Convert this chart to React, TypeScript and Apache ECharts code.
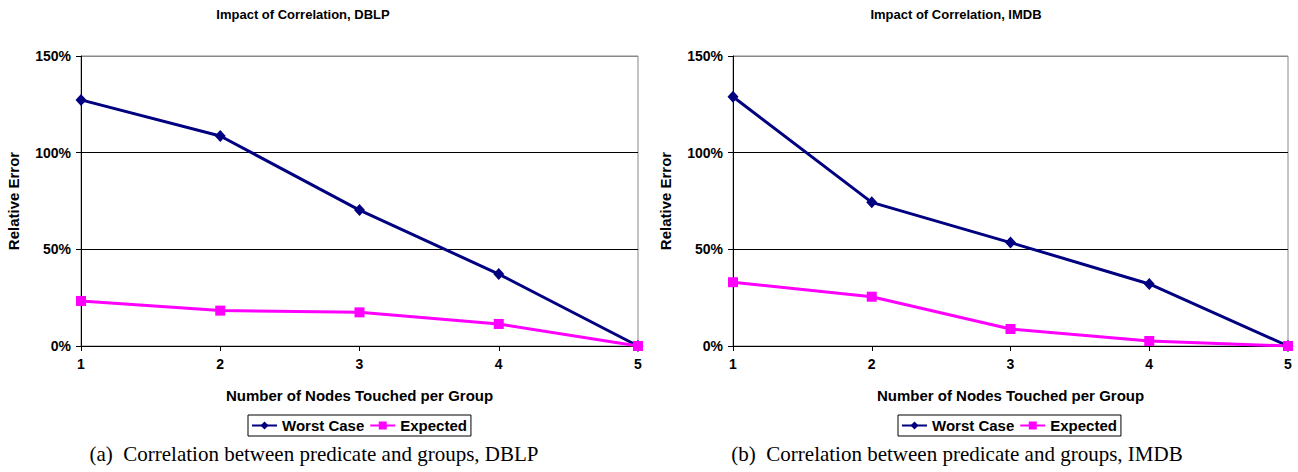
import React, { useEffect, useRef } from "react";
import * as echarts from "echarts";

const categories = ["1", "2", "3", "4", "5"];
const dblpWorst = [1.273, 1.086, 0.703, 0.372, 0.0];
const dblpExpected = [0.233, 0.183, 0.174, 0.114, 0.0];
const imdbWorst = [1.289, 0.743, 0.535, 0.321, 0.0];
const imdbExpected = [0.33, 0.255, 0.088, 0.026, 0.0];
const titles = ["Impact of Correlation, DBLP", "Impact of Correlation, IMDB"];
const captions = [
  "(a)  Correlation between predicate and groups, DBLP",
  "(b)  Correlation between predicate and groups, IMDB",
];
const seriesNames = ["Worst Case", "Expected"];

const SANS = "'Liberation Sans', Arial, sans-serif";
const SERIF = "'Liberation Serif', 'Times New Roman', serif";

export default function App() {
  const ref = useRef<HTMLDivElement>(null);
  useEffect(() => {
    if (!ref.current) return;
    const chart = echarts.init(ref.current, undefined, { renderer: "svg" });
    const grids = [
      { left: 81, right: 660, top: 56, bottom: 126 },
      { left: 733, right: 10, top: 56, bottom: 126 },
    ];
    const xAxes = grids.map((_, i) => ({
      type: "category" as const,
      gridIndex: i,
      data: categories,
      boundaryGap: false,
      axisLine: { lineStyle: { color: "#000", width: 1 } },
      axisTick: { show: true, length: 5, lineStyle: { color: "#000" } },
      axisLabel: { color: "#000", fontFamily: SANS, fontWeight: "bold", fontSize: 14, margin: 11 },
      splitLine: { show: false },
      name: "Number of Nodes Touched per Group",
      nameLocation: "middle" as const,
      nameGap: 42,
      nameTextStyle: { color: "#000", fontFamily: SANS, fontWeight: "bold", fontSize: 15 },
    }));
    const yAxes = grids.map((_, i) => ({
      type: "value" as const,
      gridIndex: i,
      min: 0,
      max: 1.5,
      interval: 0.5,
      axisLine: { show: true, lineStyle: { color: "#000", width: 1 } },
      axisTick: { show: true, length: 5, lineStyle: { color: "#000" } },
      axisLabel: {
        color: "#000",
        fontFamily: SANS,
        fontWeight: "bold",
        fontSize: 14,
        margin: 10,
        formatter: (v: number) => `${Math.round(v * 100)}%`,
      },
      splitLine: { show: true, lineStyle: { color: ["#000", "#000", "#000", "#888"], width: 1 } },
      name: "Relative Error",
      nameLocation: "middle" as const,
      nameGap: 60,
      nameTextStyle: { color: "#000", fontFamily: SANS, fontWeight: "bold", fontSize: 15 },
    }));
    const worst = [dblpWorst, imdbWorst];
    const expected = [dblpExpected, imdbExpected];
    const series: any[] = [];
    [0, 1].forEach((i) => {
      series.push({
        type: "line",
        name: seriesNames[0],
        xAxisIndex: i,
        yAxisIndex: i,
        data: worst[i],
        symbol: "diamond",
        symbolSize: [11, 12],
        color: "#000080",
        lineStyle: { color: "#000080", width: 3 },
        itemStyle: { color: "#000080" },
      });
      series.push({
        type: "line",
        name: seriesNames[1],
        xAxisIndex: i,
        yAxisIndex: i,
        data: expected[i],
        symbol: "rect",
        symbolSize: 10,
        color: "#FF00FF",
        lineStyle: { color: "#FF00FF", width: 3 },
        itemStyle: { color: "#FF00FF" },
      });
    });
    const legendLefts = [248, 898];
    const legends = legendLefts.map((l) => ({
      data: seriesNames,
      left: l,
      top: 415,
      orient: "horizontal" as const,
      itemWidth: 25,
      itemHeight: 10,
      itemGap: 5,
      padding: [3, 4, 3, 3],
      borderColor: "#000",
      borderWidth: 1,
      textStyle: { color: "#000", fontFamily: SANS, fontWeight: "bold", fontSize: 15 },
      selectedMode: false,
    }));
    const titleX = [303, 956];
    const captionX = [314, 957];
    const graphics: any[] = [];
    [0, 1].forEach((i) => {
      graphics.push({
        type: "text",
        x: titleX[i],
        y: 14,
        style: {
          text: titles[i],
          align: "center",
          verticalAlign: "middle",
          fill: "#000",
          font: `bold 13px ${SANS}`,
        },
      });
      graphics.push({
        type: "text",
        x: captionX[i],
        y: 454,
        style: {
          text: captions[i],
          align: "center",
          verticalAlign: "middle",
          fill: "#000",
          font: `21px ${SERIF}`,
        },
      });
    });
    chart.setOption({
      animation: false,
      backgroundColor: "#fff",
      grid: grids.map((g) => ({ ...g, show: true, borderColor: "#888", borderWidth: 1, backgroundColor: "transparent" })),
      xAxis: xAxes,
      yAxis: yAxes,
      legend: legends,
      series,
      graphic: graphics,
    });
    return () => chart.dispose();
  }, []);
  return (
    <div
      ref={ref}
      style={{ position: "absolute", left: 0, top: 0, width: 1298, height: 472 }}
    />
  );
}
